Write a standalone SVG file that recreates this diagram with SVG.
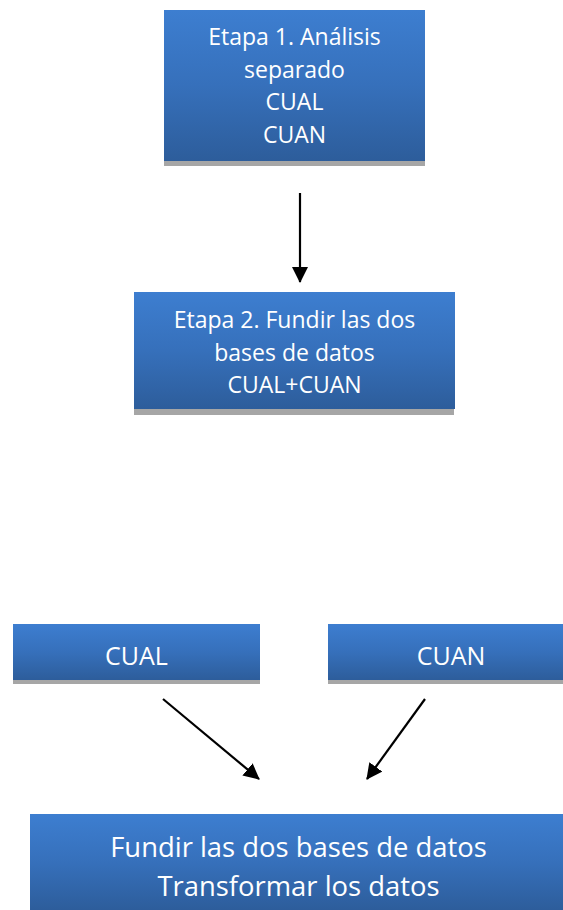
<svg xmlns="http://www.w3.org/2000/svg" width="563" height="910" viewBox="0 0 563 910">
<style>
.box{fill:url(#g)}
.sh{fill:#a6a6a6}
.t{font-family:"Open Sans","Noto Sans","DejaVu Sans",sans-serif;fill:#ffffff;text-anchor:middle}
.c{stroke:#000;stroke-width:2.2;fill:none;marker-end:url(#ah)}
</style>
<defs>
<linearGradient id="g" x1="0" y1="0" x2="0" y2="1">
<stop offset="0" stop-color="#3d7ed0"/>
<stop offset="0.5" stop-color="#3670bb"/>
<stop offset="1" stop-color="#2d5d9b"/>
</linearGradient>
<marker id="ah" viewBox="0 0 16 16" refX="15" refY="8" markerWidth="16" markerHeight="16" markerUnits="userSpaceOnUse" orient="auto">
<path d="M0,0 L16,8 L0,16 Z" fill="#000"/>
</marker>
</defs>
<rect width="563" height="910" fill="#ffffff"/>
<g id="etapa1">
<rect class="sh" x="164" y="161" width="261" height="5"/>
<rect class="box" x="164" y="10" width="261" height="151"/>
<text class="t" font-size="23"><tspan x="294.5" y="45">Etapa 1. Análisis</tspan><tspan x="294.5" y="77.5">separado</tspan><tspan x="294.5" y="110">CUAL</tspan><tspan x="294.5" y="142.5">CUAN</tspan></text>
</g>
<g id="etapa2">
<rect class="sh" x="134" y="409" width="320" height="6"/>
<rect class="box" x="134" y="292" width="321" height="117"/>
<text class="t" font-size="23"><tspan x="294.5" y="328">Etapa 2. Fundir las dos</tspan><tspan x="294.5" y="361">bases de datos</tspan><tspan x="294.5" y="393">CUAL+CUAN</tspan></text>
</g>
<g id="cual">
<rect class="sh" x="13" y="680" width="247" height="4"/>
<rect class="box" x="13" y="624" width="247" height="56"/>
<text class="t" font-size="25" x="136.5" y="664.5">CUAL</text>
</g>
<g id="cuan">
<rect class="sh" x="328" y="680" width="235" height="4"/>
<rect class="box" x="328" y="624" width="235" height="56"/>
<text class="t" font-size="25" x="451" y="664.5">CUAN</text>
</g>
<g id="fundir">
<rect class="box" x="30" y="814" width="533" height="96"/>
<text class="t" font-size="27.4"><tspan x="298.5" y="857">Fundir las dos bases de datos</tspan><tspan x="298.5" y="896">Transformar los datos</tspan></text>
</g>
<g id="connectors">
<line class="c" x1="300" y1="193" x2="300" y2="282"/>
<line class="c" x1="163" y1="699" x2="259" y2="779"/>
<line class="c" x1="425" y1="699" x2="367" y2="779"/>
</g>
</svg>
